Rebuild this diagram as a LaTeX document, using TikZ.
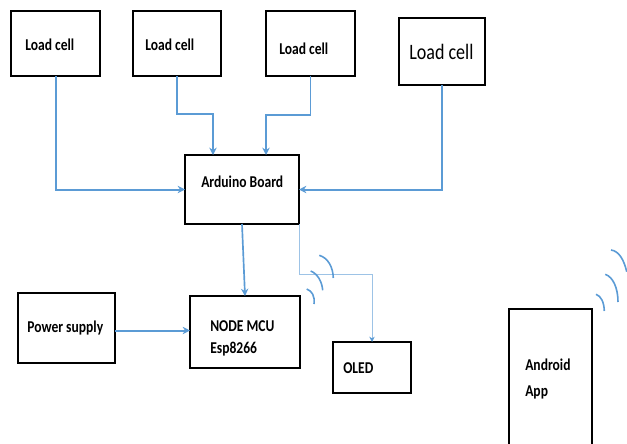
\documentclass[tikz,border=0pt]{standalone}
\usepackage{fontspec}
\setmainfont{Carlito}
\newfontfamily\condbold[FakeStretch=0.82]{Carlito Bold}
\newfontfamily\condreg[FakeStretch=0.82]{Carlito}
\usetikzlibrary{arrows.meta}
\definecolor{wire}{HTML}{5B9BD5}
\definecolor{thinwire}{HTML}{9DC3E6}
\tikzset{
 x=0.75pt,y=-0.75pt,
 blk/.style={draw=black,line width=1.5pt,fill=white,inner sep=0pt,outer sep=0pt},
 lbl/.style={font=\fontsize{12.4pt}{16.5pt}\selectfont\condbold,inner sep=0pt,align=left,anchor=west},
 wireline/.style={draw=wire,line width=1.5pt,-{Stealth[length=5.5pt,width=5.5pt]}},
 wirelight/.style={draw=wire,line width=1.25pt,-{Stealth[length=5.5pt,width=5.5pt]}},
 thinline/.style={draw=thinwire,line width=0.7pt},
 wave/.style={draw=wire,line width=1.2pt}
}
\newcommand{\bx}[5]{\node[blk,minimum width=#4*0.75pt,minimum height=#5*0.75pt] (#1) at (#2,#3) {};}
\begin{document}
\begin{tikzpicture}
\useasboundingbox (0,0) rectangle (627,443);
\clip (0,0) rectangle (627,443);
\bx{lca}{55.5}{43.5}{89}{65}
\bx{lcb}{177}{43.5}{88}{65}
\bx{lcc}{310.5}{43.5}{89}{65}
\bx{lcd}{442}{51.5}{86}{67}
\bx{ard}{242}{189.5}{114}{69}
\bx{mcu}{245}{332}{110}{72}
\bx{pow}{66.5}{328}{97}{70}
\bx{oled}{372}{367.5}{78}{51}
\bx{app}{550.5}{391}{83}{164}
\node[lbl] (ta) at (25,45) {Load cell};
\node[lbl] (tb) at (145,45) {Load cell};
\node[lbl] (tc) at (279,49) {Load cell};
\node[lbl,font=\fontsize{16.5pt}{18pt}\selectfont\condreg] (td) at (409,52) {Load cell};
\node[lbl] (te) at (201,182) {Arduino Board};
\node[lbl] (tf) at (27,328) {Power supply};
\node[lbl] (tg) at (210,338) {NODE MCU\\Esp8266};
\node[lbl] (th) at (343,368) {OLED};
\node[lbl,font=\fontsize{12.4pt}{19.5pt}\selectfont\condbold] (ti) at (525,379) {Android\\App};
\coordinate (bin) at (213,155);
\coordinate (cin) at (266,155);
\coordinate (bmid) at (213,114);
\coordinate (cmid) at (266,115);
\coordinate (ardout) at (299,224);
\coordinate (powout) at (115,330.5);
\draw[wireline] (lca.south) |- (ard.west);
\draw[wirelight] (lcb.south) |- (bmid) -- (bin);
\draw[wirelight] (lcc.south) |- (cmid) -- (cin);
\draw[wireline] (lcd.south) |- (ard.east);
\draw[wirelight] (ard.south) -- (mcu.north);
\draw[wireline] (powout) -- (mcu.west |- powout);
\draw[thinline,-{Stealth[length=4pt,width=4pt,color=wire]}] (ardout) |- (oled.north |- 0,274) -- (oled.north);
\draw[wave] (306.7,289) .. controls (312,291) and (315,296) .. (314,304);
\draw[wave] (310.7,271) .. controls (318,274) and (322,282) .. (322.7,290.3);
\draw[wave] (319.3,255.3) .. controls (328,258) and (333,267) .. (333.3,278);
\draw[wave] (596,294.3) .. controls (601,296) and (604,302) .. (604.3,311);
\draw[wave] (605.3,274.3) .. controls (613,277) and (618,288) .. (618,302);
\draw[wave] (611,250) .. controls (619,251) and (624,260) .. (626.7,271.7);
\end{tikzpicture}
\end{document}
